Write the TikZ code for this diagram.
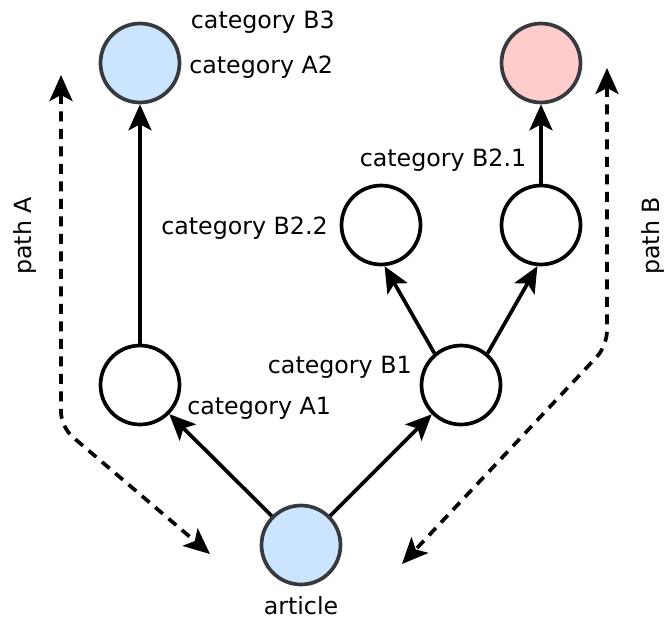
\documentclass[tikz,border=0pt]{standalone}
\usepackage{fontspec}
\setmainfont{DejaVu Sans}
\usetikzlibrary{arrows.meta}

\definecolor{catblue}{HTML}{CCE5FF}
\definecolor{catred}{HTML}{FFCCCC}
\definecolor{catrim}{HTML}{36393D}

\begin{document}
\begin{tikzpicture}[x=0.02cm, y=-0.02cm,
    cat/.style={circle, draw, line width=2.1pt, minimum size=1.58cm, inner sep=0pt},
    catA/.style={cat, draw=catrim, fill=catblue},
    catB/.style={cat, draw=catrim, fill=catred},
    lbl/.style={inner sep=0pt, font=\fontsize{13.5}{16}\selectfont},
    link/.style={line width=2.1pt, -{Stealth[length=0.52cm, width=0.46cm, inset=0.12cm]}},
    walk/.style={line width=2.1pt,
      {Stealth[length=0.52cm, width=0.46cm, inset=0.12cm]}-{Stealth[length=0.52cm, width=0.46cm, inset=0.12cm]},
      dash pattern=on 0.2cm off 0.15cm, rounded corners=0.3cm}]
    \useasboundingbox (0,0) rectangle (670,626);
    % categories
    \node[catA] (a2) at (140,63) {};
    \node[catB] (b3) at (541,63) {};
    \node[cat] (b22) at (381,225) {};
    \node[cat] (b21) at (541,225) {};
    \node[cat] (a1) at (140,385) {};
    \node[cat] (b1) at (461,385) {};
    \node[catA] (art) at (301,545) {};
    % labels
    \node[lbl, anchor=west] (la2) at (189,67) {category A2};
    \node[lbl, anchor=east] (lb3) at (335,22) {category B3};
    \node[lbl] (lb21) at (443,160) {category B2.1};
    \node[lbl, anchor=east] (lb22) at (328,228) {category B2.2};
    \node[lbl, anchor=east] (lb1) at (412,367) {category B1};
    \node[lbl, anchor=west] (la1) at (187,408) {category A1};
    \node[lbl] (lart) at (301,606) {article};
    \node[lbl, rotate=90] (lpa) at (25,236) {path A};
    \node[lbl, rotate=90] (lpb) at (653,236) {path B};
    % edges
    \draw[link] (art) -- (a1);
    \draw[link] (art) -- (b1);
    \draw[link] (a1) -- (a2);
    \draw[link] (b1.130) -- (b22.-85);
    \draw[link] (b1.50) -- (b21.-95);
    \draw[link] (b21) -- (b3);
    % paths
    \coordinate (pa0) at (61,75);
    \coordinate (pa1) at (61,427);
    \coordinate (pa2) at (210,554);
    \coordinate (pb0) at (607,68);
    \coordinate (pb1) at (607,346);
    \coordinate (pb2) at (402,564);
    \draw[walk] (pa0) -- (pa1) -- (pa2);
    \draw[walk] (pb0) -- (pb1) -- (pb2);
\end{tikzpicture}
\end{document}
